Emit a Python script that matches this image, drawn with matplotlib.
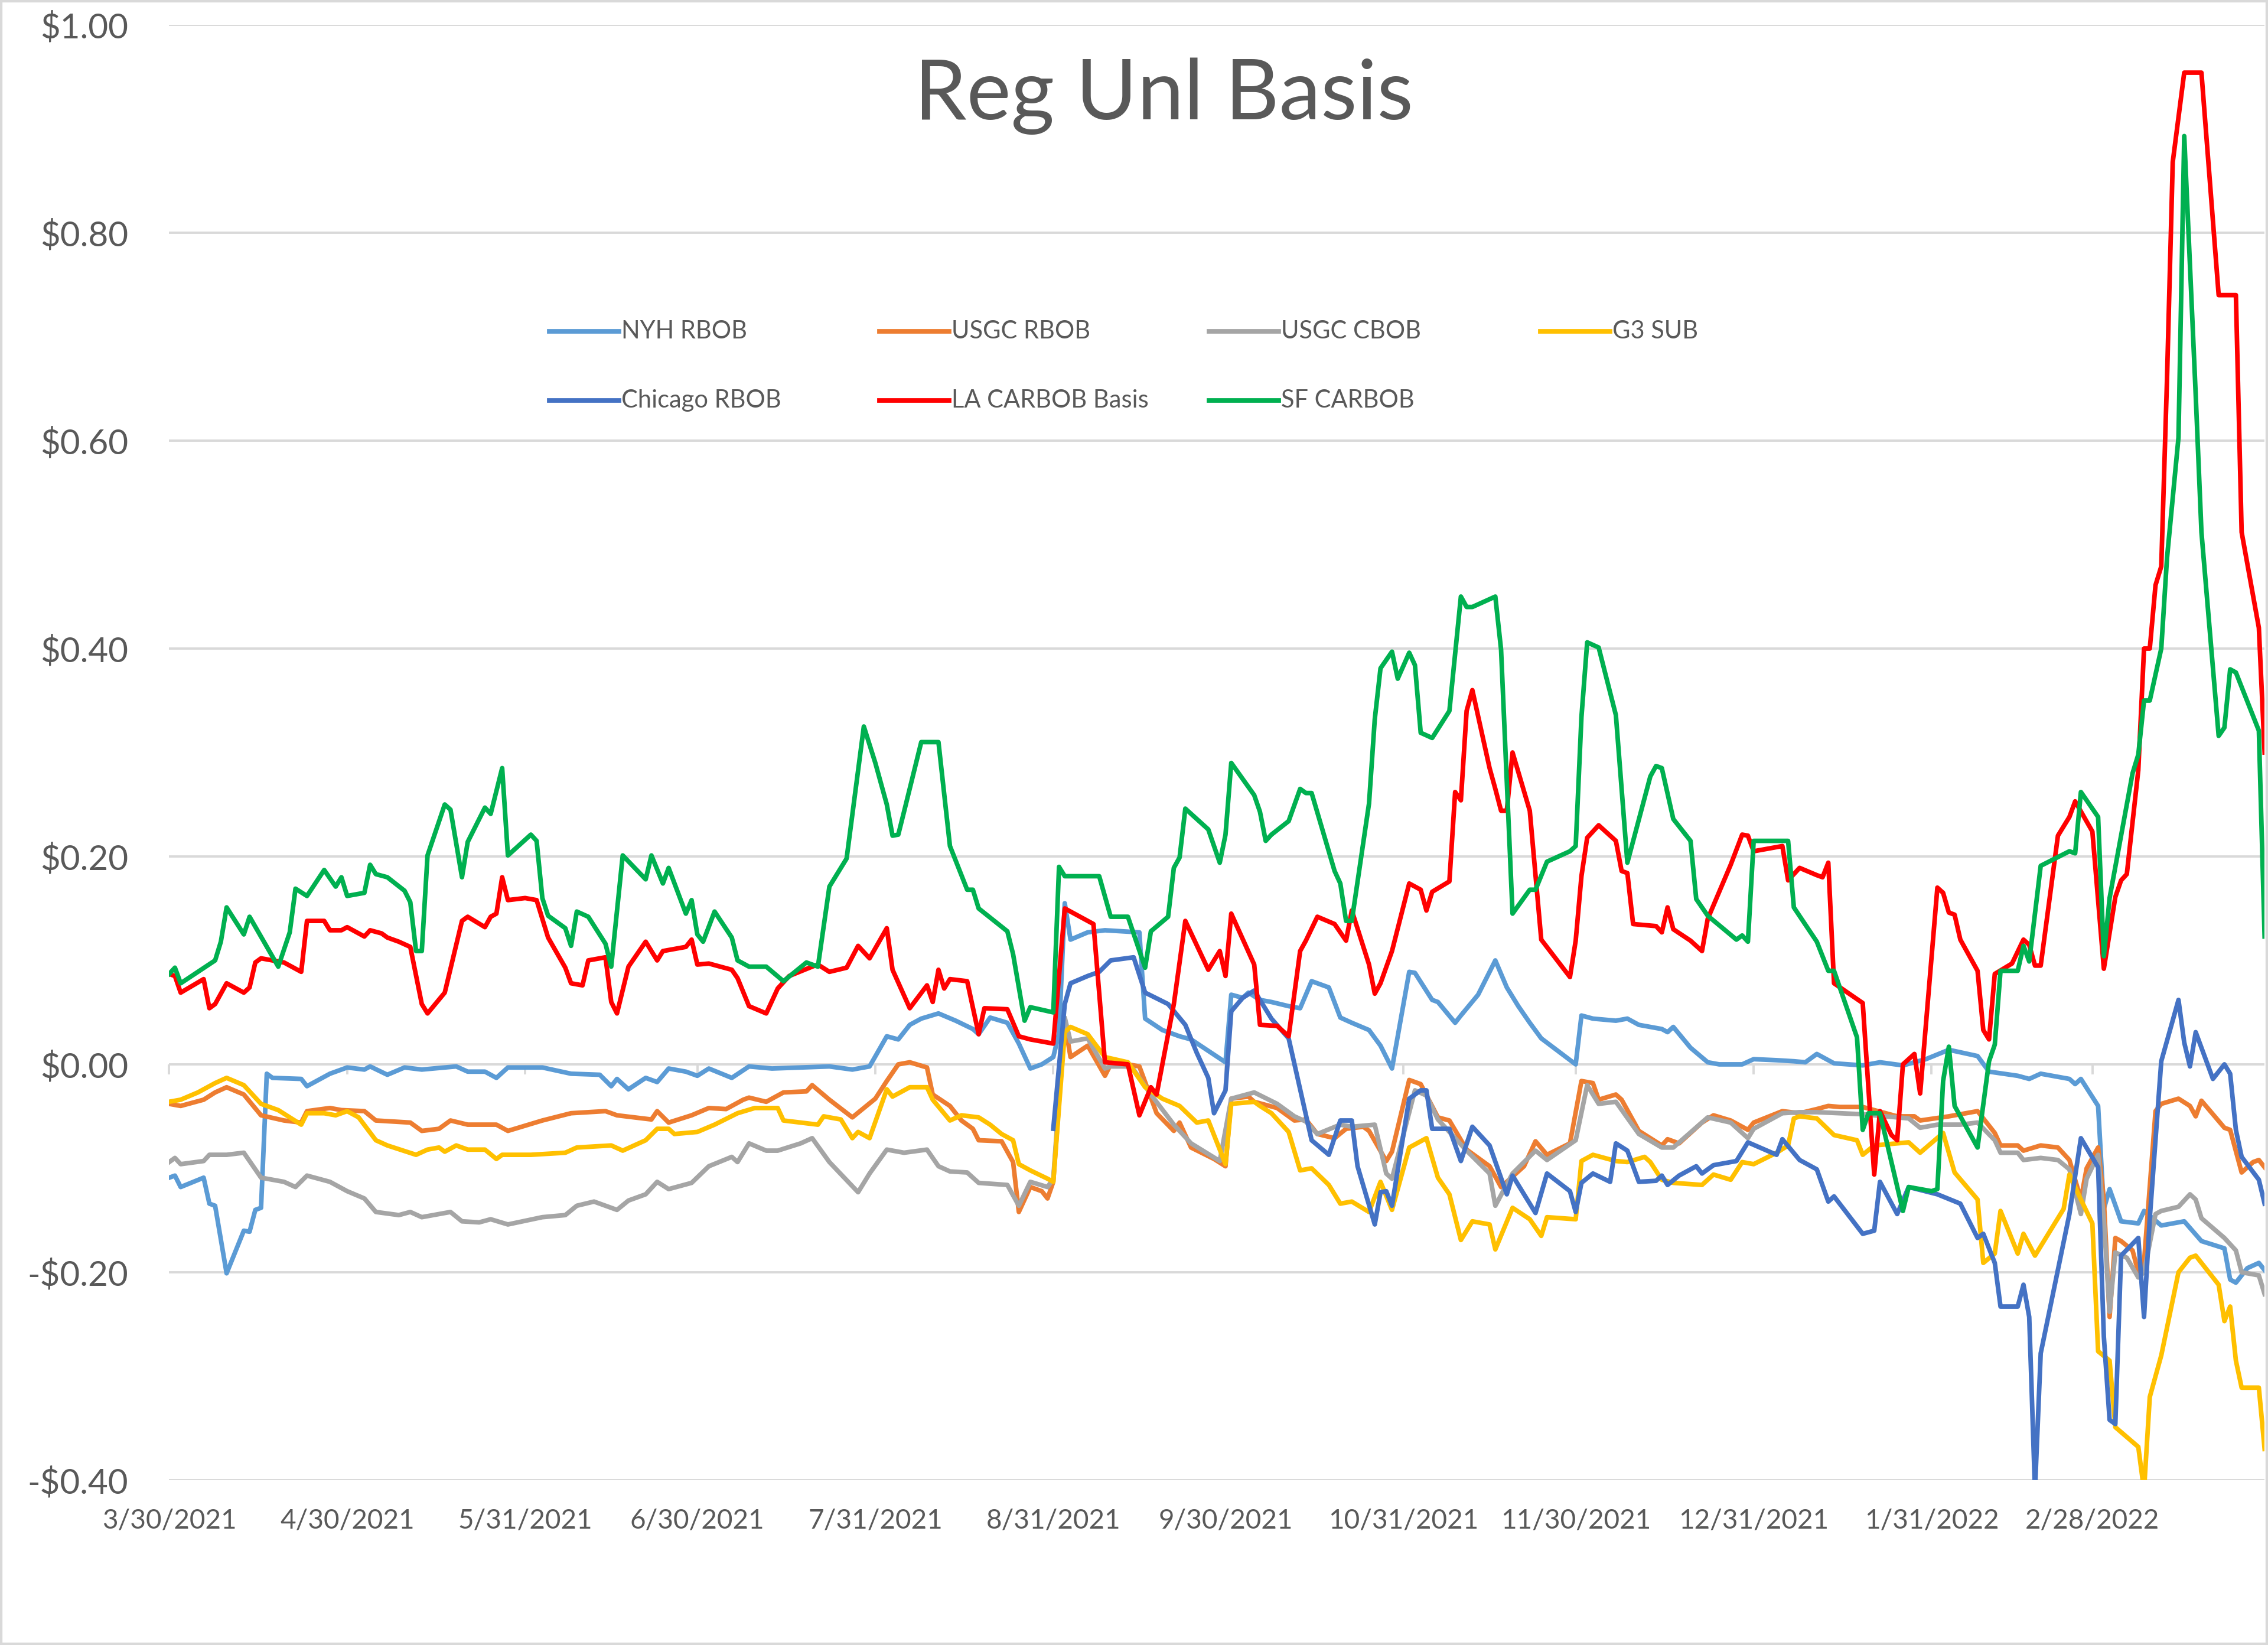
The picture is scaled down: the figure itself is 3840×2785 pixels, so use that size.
import matplotlib
matplotlib.use("Agg")
import matplotlib.pyplot as plt
import matplotlib.dates as mdates
from matplotlib.lines import Line2D
from matplotlib.patches import Rectangle
import pandas as pd

start = pd.Timestamp("2021-03-30")

# days after 3/30/2021 and basis values ($/gal)
nyh_days = [0, 1, 2, 6, 7, 8, 10, 13, 14, 15, 16, 17, 18, 23, 24, 28, 31, 34, 35, 38, 41, 44, 48, 50, 52, 55, 57, 59, 65, 70,
            75, 77, 78, 80, 83, 85, 87, 90, 92, 94, 98, 101, 105, 115, 119, 122, 125, 127, 129, 131, 134, 137, 140, 141, 143, 146, 148, 150, 152, 154,
            155, 156, 157, 160, 163, 169, 170, 173, 176, 178, 181, 184, 185, 187, 188, 190, 192, 195, 197, 199, 202, 204, 206, 209, 211, 213, 216, 217, 220, 221,
            224, 225, 228, 231, 233, 235, 237, 239, 245, 246, 248, 252, 254, 256, 260, 261, 262, 265, 268, 270, 274, 276, 280, 283, 285, 287, 290, 295, 298, 302,
            306, 310, 315, 317, 322, 324, 326, 331, 332, 333, 336, 337, 338, 340, 343, 344, 347, 351, 354, 358, 359, 360, 362, 364, 365]
nyh_vals = [-0.109, -0.107, -0.118, -0.109, -0.134, -0.136, -0.201, -0.160, -0.161, -0.140, -0.138, -0.009, -0.013, -0.014, -0.021, -0.009, -0.003, -0.005, -0.002, -0.010,
            -0.003, -0.005, -0.003, -0.002, -0.007, -0.007, -0.013, -0.003, -0.003, -0.009, -0.010, -0.021, -0.014, -0.024, -0.013, -0.017, -0.004, -0.007, -0.011, -0.004,
            -0.013, -0.002, -0.004, -0.002, -0.005, -0.002, 0.027, 0.024, 0.038, 0.044, 0.049, 0.042, 0.034, 0.029, 0.045, 0.040, 0.020, -0.004, 0.000, 0.007,
            0.030, 0.155, 0.120, 0.127, 0.129, 0.127, 0.044, 0.033, 0.027, 0.024, 0.013, 0.002, 0.067, 0.064, 0.069, 0.062, 0.060, 0.056, 0.054, 0.080,
            0.074, 0.045, 0.040, 0.033, 0.018, -0.004, 0.089, 0.088, 0.062, 0.060, 0.040, 0.047, 0.067, 0.100, 0.074, 0.056, 0.040, 0.025, 0.000, 0.047,
            0.044, 0.042, 0.044, 0.038, 0.034, 0.031, 0.036, 0.016, 0.002, 0.000, 0.000, 0.005, 0.004, 0.003, 0.002, 0.010, 0.001, -0.001, 0.002, -0.001,
            0.005, 0.014, 0.008, -0.007, -0.011, -0.014, -0.009, -0.014, -0.019, -0.014, -0.040, -0.139, -0.120, -0.151, -0.153, -0.141, -0.155, -0.151, -0.170, -0.177,
            -0.207, -0.210, -0.196, -0.191, -0.198]

usgc_rbob_days = [0, 2, 6, 8, 10, 13, 16, 20, 23, 24, 28, 30, 34, 36, 42, 44, 47, 49, 52, 57, 59, 65, 70, 76, 78, 84, 85, 87, 91, 94,
                  97, 100, 101, 104, 107, 111, 112, 115, 119, 121, 123, 125, 127, 129, 132, 133, 136, 138, 140, 141, 145, 147, 148, 150, 152, 153, 154, 156, 157, 160,
                  163, 164, 167, 169, 172, 175, 176, 178, 182, 184, 185, 188, 189, 193, 196, 198, 200, 203, 205, 208, 209, 212, 213, 216, 218, 221, 223, 226, 230, 232,
                  236, 238, 240, 244, 246, 248, 249, 252, 253, 256, 258, 260, 261, 263, 267, 269, 272, 275, 276, 281, 284, 287, 289, 291, 295, 301, 304, 305, 310, 315,
                  318, 319, 322, 323, 326, 329, 331, 333, 334, 336, 337, 338, 339, 340, 342, 343, 344, 346, 347, 350, 352, 353, 354, 358, 359, 361, 363, 364, 365]
usgc_rbob_vals = [-0.038, -0.040, -0.034, -0.027, -0.022, -0.029, -0.049, -0.054, -0.056, -0.045, -0.042, -0.044, -0.045, -0.054, -0.056, -0.064, -0.062, -0.054, -0.058, -0.058,
                  -0.064, -0.054, -0.047, -0.045, -0.049, -0.053, -0.045, -0.056, -0.049, -0.042, -0.043, -0.034, -0.032, -0.036, -0.027, -0.026, -0.020, -0.034, -0.051, -0.042,
                  -0.033, -0.016, 0.000, 0.002, -0.003, -0.029, -0.040, -0.054, -0.062, -0.073, -0.074, -0.094, -0.142, -0.118, -0.122, -0.129, -0.113, 0.040, 0.007, 0.018,
                  -0.011, 0.000, 0.000, -0.002, -0.047, -0.064, -0.056, -0.080, -0.091, -0.098, -0.033, -0.031, -0.036, -0.042, -0.054, -0.053, -0.067, -0.071, -0.062, -0.060,
                  -0.064, -0.093, -0.084, -0.015, -0.019, -0.051, -0.054, -0.082, -0.098, -0.118, -0.098, -0.074, -0.087, -0.076, -0.016, -0.018, -0.034, -0.029, -0.034, -0.064,
                  -0.071, -0.078, -0.072, -0.076, -0.056, -0.049, -0.054, -0.063, -0.056, -0.045, -0.047, -0.043, -0.040, -0.041, -0.041, -0.050, -0.050, -0.054, -0.050, -0.045,
                  -0.066, -0.078, -0.078, -0.083, -0.078, -0.080, -0.092, -0.130, -0.100, -0.080, -0.130, -0.243, -0.167, -0.170, -0.179, -0.200, -0.190, -0.045, -0.038, -0.033,
                  -0.040, -0.050, -0.035, -0.061, -0.063, -0.104, -0.094, -0.092, -0.099]

usgc_cbob_days = [0, 1, 2, 6, 7, 10, 13, 16, 20, 22, 24, 28, 31, 34, 36, 40, 42, 44, 49, 51, 54, 56, 59, 65, 69, 71, 74, 78, 80, 83,
                  85, 87, 91, 94, 98, 99, 101, 104, 106, 110, 112, 115, 120, 122, 125, 128, 132, 134, 136, 139, 141, 146, 148, 150, 153, 154, 156, 157, 160, 163,
                  164, 167, 168, 171, 175, 178, 183, 185, 189, 193, 196, 198, 200, 204, 206, 210, 212, 213, 217, 219, 221, 226, 230, 231, 234, 238, 240, 245, 247, 249,
                  252, 256, 260, 262, 268, 272, 275, 276, 281, 284, 287, 291, 295, 303, 305, 308, 312, 315, 318, 319, 322, 323, 326, 329, 331, 333, 334, 336, 337, 338,
                  339, 341, 343, 344, 346, 347, 350, 352, 353, 354, 358, 360, 361, 364, 365]
usgc_cbob_vals = [-0.094, -0.090, -0.096, -0.093, -0.087, -0.087, -0.085, -0.109, -0.113, -0.118, -0.107, -0.113, -0.122, -0.129, -0.142, -0.145, -0.142, -0.147, -0.142, -0.151,
                  -0.152, -0.149, -0.154, -0.147, -0.145, -0.136, -0.132, -0.140, -0.131, -0.125, -0.113, -0.120, -0.114, -0.098, -0.089, -0.094, -0.076, -0.083, -0.083, -0.076,
                  -0.071, -0.094, -0.123, -0.105, -0.082, -0.085, -0.082, -0.098, -0.103, -0.104, -0.114, -0.116, -0.136, -0.113, -0.118, -0.110, 0.045, 0.022, 0.025, -0.004,
                  -0.002, -0.002, -0.005, -0.029, -0.058, -0.076, -0.093, -0.033, -0.027, -0.038, -0.050, -0.055, -0.067, -0.058, -0.060, -0.058, -0.105, -0.110, -0.025, -0.030,
                  -0.053, -0.083, -0.105, -0.136, -0.105, -0.083, -0.092, -0.073, -0.020, -0.038, -0.036, -0.067, -0.080, -0.080, -0.051, -0.056, -0.071, -0.062, -0.047, -0.046,
                  -0.046, -0.047, -0.048, -0.052, -0.061, -0.058, -0.058, -0.056, -0.073, -0.085, -0.085, -0.092, -0.090, -0.092, -0.101, -0.144, -0.110, -0.087, -0.150, -0.238,
                  -0.181, -0.186, -0.205, -0.200, -0.144, -0.141, -0.137, -0.125, -0.130, -0.148, -0.167, -0.179, -0.200, -0.203, -0.221]

g3_days = [0, 2, 5, 7, 8, 10, 13, 16, 19, 21, 23, 24, 27, 29, 31, 33, 36, 38, 43, 45, 47, 48, 50, 52, 55, 57, 58, 63, 69, 71,
           77, 79, 83, 85, 87, 88, 92, 95, 99, 102, 106, 107, 113, 114, 117, 119, 120, 122, 125, 126, 129, 132, 133, 136, 138, 141, 143, 145, 147, 148,
           150, 153, 154, 156, 157, 160, 163, 167, 170, 173, 176, 179, 181, 184, 185, 189, 190, 192, 195, 197, 199, 202, 204, 206, 209, 211, 213, 216, 219, 221,
           223, 225, 227, 230, 231, 234, 237, 239, 240, 245, 246, 248, 252, 254, 257, 258, 260, 262, 267, 269, 272, 274, 276, 280, 282, 283, 284, 287, 290, 294,
           295, 297, 303, 305, 309, 311, 315, 316, 318, 319, 322, 323, 325, 330, 331, 333, 335, 336, 338, 339, 343, 344, 345, 346, 347, 350, 352, 353, 356, 357,
           358, 359, 360, 361, 364, 365]
g3_vals = [-0.036, -0.034, -0.027, -0.021, -0.018, -0.013, -0.020, -0.038, -0.044, -0.051, -0.058, -0.047, -0.047, -0.049, -0.045, -0.051, -0.073, -0.078, -0.087, -0.082,
           -0.080, -0.084, -0.078, -0.082, -0.082, -0.091, -0.087, -0.087, -0.085, -0.080, -0.078, -0.083, -0.073, -0.062, -0.062, -0.067, -0.065, -0.058, -0.047, -0.042,
           -0.042, -0.054, -0.058, -0.050, -0.053, -0.071, -0.065, -0.071, -0.024, -0.031, -0.022, -0.022, -0.034, -0.054, -0.049, -0.051, -0.058, -0.067, -0.073, -0.096,
           -0.102, -0.110, -0.113, 0.031, 0.036, 0.029, 0.007, 0.002, -0.022, -0.033, -0.040, -0.056, -0.054, -0.096, -0.038, -0.036, -0.040, -0.047, -0.065, -0.102,
           -0.100, -0.116, -0.134, -0.132, -0.142, -0.113, -0.140, -0.080, -0.071, -0.109, -0.125, -0.169, -0.151, -0.154, -0.178, -0.138, -0.149, -0.165, -0.147, -0.149,
           -0.093, -0.087, -0.093, -0.094, -0.089, -0.094, -0.111, -0.114, -0.116, -0.106, -0.111, -0.094, -0.096, -0.085, -0.078, -0.052, -0.050, -0.052, -0.068, -0.073,
           -0.087, -0.078, -0.075, -0.085, -0.066, -0.104, -0.130, -0.191, -0.182, -0.141, -0.182, -0.163, -0.184, -0.139, -0.106, -0.130, -0.153, -0.276, -0.285, -0.349,
           -0.368, -0.410, -0.320, -0.300, -0.280, -0.200, -0.186, -0.184, -0.205, -0.212, -0.247, -0.233, -0.285, -0.311, -0.311, -0.370]

chicago_days = [154, 156, 157, 160, 162, 164, 168, 170, 174, 177, 179, 181, 182, 184, 185, 187, 189, 192, 195, 197, 199, 202, 204, 206, 207, 210, 211, 212, 213, 216,
                218, 219, 220, 223, 225, 227, 230, 233, 234, 238, 240, 244, 245, 246, 248, 251, 252, 254, 256, 259, 260, 261, 263, 266, 267, 269, 273, 275, 280, 281,
                284, 287, 289, 290, 295, 297, 298, 301, 303, 308, 312, 315, 316, 318, 319, 322, 323, 324, 325, 326, 331, 333, 336, 337, 338, 339, 340, 343, 344, 345,
                347, 350, 351, 352, 353, 356, 358, 359, 360, 361, 364, 365]
chicago_vals = [-0.062, 0.058, 0.078, 0.085, 0.089, 0.100, 0.103, 0.069, 0.058, 0.038, 0.011, -0.013, -0.047, -0.025, 0.051, 0.064, 0.071, 0.044, 0.025, -0.024,
                -0.073, -0.087, -0.054, -0.054, -0.098, -0.154, -0.123, -0.122, -0.136, -0.033, -0.025, -0.025, -0.062, -0.062, -0.093, -0.060, -0.078, -0.125, -0.107, -0.143,
                -0.105, -0.122, -0.142, -0.114, -0.105, -0.113, -0.076, -0.083, -0.113, -0.112, -0.107, -0.116, -0.107, -0.098, -0.105, -0.097, -0.093, -0.075, -0.087, -0.072,
                -0.092, -0.101, -0.132, -0.127, -0.163, -0.160, -0.113, -0.144, -0.118, -0.125, -0.134, -0.167, -0.163, -0.191, -0.233, -0.233, -0.212, -0.243, -0.410, -0.278,
                -0.144, -0.071, -0.099, -0.262, -0.342, -0.346, -0.184, -0.167, -0.243, -0.148, 0.003, 0.062, 0.021, -0.002, 0.031, -0.014, 0.000, -0.009, -0.063, -0.089,
                -0.111, -0.134]

la_days = [0, 1, 2, 6, 7, 8, 10, 13, 14, 15, 16, 20, 23, 24, 27, 28, 30, 31, 34, 35, 37, 38, 40, 42, 44, 45, 48, 51, 52, 55,
           56, 57, 58, 59, 62, 64, 66, 69, 70, 72, 73, 76, 77, 78, 80, 83, 85, 86, 90, 91, 92, 94, 98, 99, 101, 104, 106, 108, 112, 113,
           115, 118, 120, 122, 125, 126, 129, 132, 133, 134, 135, 136, 139, 141, 142, 146, 148, 150, 154, 156, 161, 163, 167, 169, 171, 172, 175, 177, 181, 183,
           184, 185, 189, 190, 193, 195, 197, 198, 200, 203, 205, 206, 209, 210, 211, 213, 216, 218, 219, 220, 223, 224, 225, 226, 227, 230, 231, 232, 233, 234,
           237, 239, 244, 245, 246, 247, 249, 252, 253, 254, 255, 259, 260, 261, 262, 265, 267, 268, 272, 274, 275, 276, 281, 282, 284, 287, 288, 289, 290, 295,
           297, 298, 300, 301, 302, 304, 305, 308, 309, 310, 311, 312, 315, 316, 317, 318, 321, 323, 324, 325, 326, 329, 331, 332, 335, 337, 339, 340, 341, 343,
           344, 345, 346, 347, 348, 349, 351, 354, 357, 360, 361, 364, 365]
la_vals = [0.087, 0.085, 0.069, 0.082, 0.054, 0.058, 0.078, 0.069, 0.074, 0.098, 0.102, 0.098, 0.089, 0.138, 0.138, 0.129, 0.129, 0.132, 0.123, 0.129,
           0.126, 0.122, 0.118, 0.113, 0.058, 0.049, 0.069, 0.138, 0.142, 0.132, 0.142, 0.145, 0.180, 0.158, 0.160, 0.158, 0.122, 0.093, 0.078, 0.076,
           0.100, 0.103, 0.060, 0.049, 0.094, 0.118, 0.100, 0.109, 0.113, 0.120, 0.096, 0.097, 0.091, 0.083, 0.056, 0.049, 0.073, 0.085, 0.094, 0.096,
           0.089, 0.093, 0.114, 0.102, 0.131, 0.091, 0.054, 0.076, 0.060, 0.091, 0.073, 0.082, 0.080, 0.029, 0.054, 0.053, 0.027, 0.024, 0.020, 0.150,
           0.135, 0.002, 0.000, -0.049, -0.022, -0.029, 0.058, 0.138, 0.091, 0.109, 0.085, 0.145, 0.096, 0.038, 0.037, 0.027, 0.109, 0.119, 0.142, 0.135,
           0.119, 0.148, 0.096, 0.068, 0.078, 0.109, 0.174, 0.168, 0.148, 0.166, 0.176, 0.262, 0.254, 0.340, 0.360, 0.285, 0.265, 0.244, 0.244, 0.300,
           0.244, 0.120, 0.084, 0.119, 0.181, 0.218, 0.230, 0.215, 0.186, 0.184, 0.135, 0.133, 0.127, 0.151, 0.130, 0.119, 0.109, 0.140, 0.192, 0.221,
           0.220, 0.205, 0.210, 0.177, 0.189, 0.182, 0.180, 0.194, 0.078, 0.059, -0.106, -0.045, -0.068, -0.073, 0.000, 0.010, -0.028, 0.170, 0.165, 0.146,
           0.144, 0.120, 0.090, 0.033, 0.024, 0.087, 0.097, 0.120, 0.115, 0.095, 0.095, 0.220, 0.238, 0.253, 0.224, 0.092, 0.161, 0.177, 0.183, 0.283,
           0.400, 0.400, 0.461, 0.479, 0.659, 0.868, 0.954, 0.954, 0.740, 0.740, 0.512, 0.420, 0.300]

sf_days = [0, 1, 2, 8, 9, 10, 13, 14, 19, 21, 22, 24, 27, 29, 30, 31, 34, 35, 36, 38, 41, 42, 43, 44, 45, 48, 49, 51, 52, 55,
           56, 58, 59, 63, 64, 65, 66, 69, 70, 71, 73, 76, 77, 79, 83, 84, 86, 87, 90, 91, 92, 93, 95, 98, 99, 101, 104, 107, 111, 113,
           115, 118, 121, 123, 125, 126, 127, 128, 131, 134, 136, 139, 140, 141, 146, 147, 149, 150, 154, 155, 156, 162, 164, 167, 170, 171, 174, 175, 176, 177,
           179, 181, 183, 184, 185, 189, 190, 191, 192, 195, 197, 198, 199, 203, 204, 205, 206, 209, 210, 211, 213, 214, 216, 217, 218, 220, 223, 225, 226, 227,
           231, 232, 234, 237, 238, 240, 244, 245, 246, 247, 249, 252, 254, 258, 259, 260, 262, 265, 266, 268, 273, 274, 275, 276, 282, 283, 287, 289, 290, 294,
           295, 296, 298, 302, 303, 307, 308, 309, 310, 311, 315, 317, 318, 319, 322, 323, 324, 326, 331, 332, 333, 336, 337, 338, 342, 343, 344, 345, 347, 348,
           350, 351, 353, 354, 357, 358, 359, 360, 364, 365]
sf_vals = [0.087, 0.093, 0.078, 0.100, 0.118, 0.151, 0.125, 0.142, 0.094, 0.127, 0.169, 0.162, 0.187, 0.171, 0.180, 0.162, 0.165, 0.192, 0.183, 0.180,
           0.167, 0.156, 0.109, 0.109, 0.201, 0.250, 0.245, 0.180, 0.214, 0.247, 0.241, 0.285, 0.201, 0.221, 0.215, 0.160, 0.143, 0.131, 0.114, 0.147,
           0.142, 0.116, 0.094, 0.201, 0.178, 0.201, 0.174, 0.189, 0.145, 0.158, 0.125, 0.118, 0.147, 0.122, 0.100, 0.094, 0.094, 0.080, 0.098, 0.094,
           0.171, 0.198, 0.325, 0.290, 0.250, 0.220, 0.221, 0.243, 0.310, 0.310, 0.210, 0.168, 0.168, 0.150, 0.128, 0.106, 0.042, 0.055, 0.050, 0.190,
           0.181, 0.181, 0.142, 0.142, 0.093, 0.128, 0.142, 0.189, 0.199, 0.246, 0.236, 0.226, 0.194, 0.221, 0.290, 0.259, 0.243, 0.215, 0.221, 0.234,
           0.265, 0.261, 0.261, 0.186, 0.174, 0.138, 0.138, 0.251, 0.332, 0.381, 0.397, 0.371, 0.396, 0.384, 0.319, 0.314, 0.340, 0.450, 0.440, 0.440,
           0.450, 0.399, 0.145, 0.168, 0.168, 0.195, 0.205, 0.210, 0.334, 0.406, 0.401, 0.336, 0.194, 0.277, 0.287, 0.285, 0.236, 0.215, 0.159, 0.143,
           0.120, 0.124, 0.118, 0.215, 0.215, 0.151, 0.118, 0.090, 0.090, 0.026, -0.063, -0.047, -0.047, -0.141, -0.118, -0.122, -0.120, -0.016, 0.017, -0.040,
           -0.080, 0.003, 0.019, 0.090, 0.090, 0.114, 0.099, 0.191, 0.205, 0.203, 0.262, 0.238, 0.104, 0.160, 0.280, 0.298, 0.350, 0.350, 0.400, 0.487,
           0.603, 0.893, 0.644, 0.512, 0.316, 0.324, 0.380, 0.377, 0.321, 0.123]

series_names = ["NYH RBOB", "USGC RBOB", "USGC CBOB", "G3 SUB", "Chicago RBOB", "LA CARBOB Basis", "SF CARBOB"]
series_days = [nyh_days, usgc_rbob_days, usgc_cbob_days, g3_days, chicago_days, la_days, sf_days]
series_vals = [nyh_vals, usgc_rbob_vals, usgc_cbob_vals, g3_vals, chicago_vals, la_vals, sf_vals]
colors = ["#5B9BD5", "#ED7D31", "#A5A5A5", "#FFC000", "#4472C4", "#FF0000", "#00B050"]

tick_labels = ["3/30/2021", "4/30/2021", "5/31/2021", "6/30/2021", "7/31/2021", "8/31/2021", "9/30/2021",
               "10/31/2021", "11/30/2021", "12/31/2021", "1/31/2022", "2/28/2022"]
y_ticks = [-0.4, -0.2, 0.0, 0.2, 0.4, 0.6, 0.8, 1.0]

plt.rcParams['font.family'] = ['Lato', 'DejaVu Sans']
text_color = "#595959"
grid_color = "#D9D9D9"
line_w = 2.8

fig = plt.figure(figsize=(19.2, 13.925), dpi=200)
ax = fig.add_axes([0.0746, 0.1002, 0.9985 - 0.0746, 0.9849 - 0.1002])

for name, d, v, c in zip(series_names, series_days, series_vals, colors):
    x = start + pd.to_timedelta(d, unit="D")
    ax.plot(x, v, color=c, lw=line_w, label=name, solid_joinstyle="round", zorder=3)

ax.set_ylim(-0.4, 1.0)
ax.set_xlim(start, start + pd.Timedelta(days=365))
ax.set_yticks(y_ticks)
ax.set_yticklabels([("-$%.2f" % abs(t)) if t < 0 else ("$%.2f" % t) for t in y_ticks])
ax.grid(axis="y", color=grid_color, lw=1.4, zorder=0)

tick_dates = mdates.date2num(pd.to_datetime(tick_labels, format="%m/%d/%Y"))
ax.set_xticks(tick_dates)
ax.set_xticklabels(tick_labels)
ax.tick_params(axis="x", length=0, pad=17, labelsize=16.5, labelcolor=text_color)
ax.tick_params(axis="y", length=0, pad=25, labelsize=21, labelcolor=text_color)
for s in ax.spines.values():
    s.set_visible(False)

# small tick marks hanging below the $0.00 line
sec = ax.secondary_xaxis(0.4 / 1.4)
sec.set_xticks(tick_dates)
sec.tick_params(axis="x", length=6, width=1.4, color=grid_color, labelbottom=False)
sec.spines["bottom"].set_visible(False)

# legend laid out like the Excel one: 4 columns, 2 rows
col_x = [0.2422, 0.3878, 0.5331, 0.6792]
row_y = [0.7986, 0.7565]
handle_w = 0.0307
for i, (name, c) in enumerate(zip(series_names, colors)):
    cx = col_x[i % 4]
    cy = row_y[i // 4]
    fig.add_artist(Line2D([cx, cx + handle_w], [cy, cy], color=c, lw=line_w, transform=fig.transFigure))
    fig.text(cx + handle_w + 0.001, cy, name, fontsize=15, color=text_color, va="center", ha="left")

fig.text(0.513, 0.9415, "Reg Unl Basis", fontsize=51, color=text_color, ha="center", va="center")

fig.patches.append(Rectangle((0, 0), 1, 1, transform=fig.transFigure, fill=False,
                             edgecolor=grid_color, lw=3))

fig.savefig("out.png", dpi=200)
